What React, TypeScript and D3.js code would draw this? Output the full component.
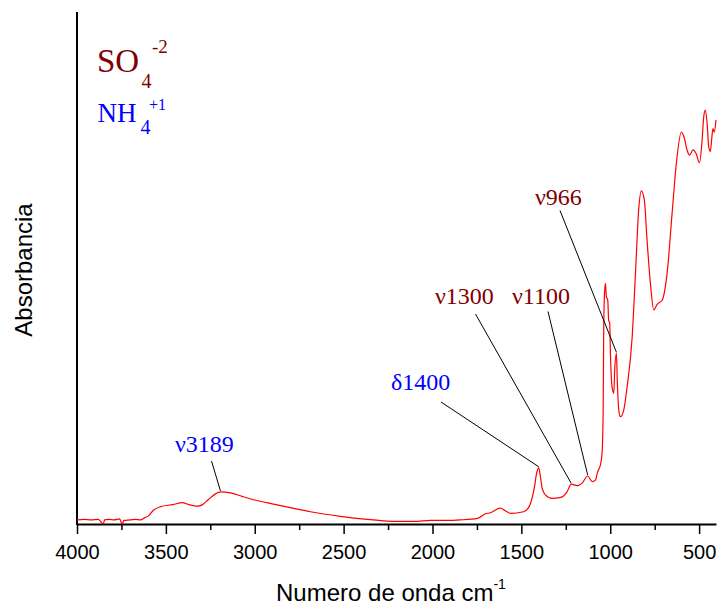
import React, { useEffect, useRef } from "react";
import * as d3 from "d3";

// FTIR spectrum (wavenumber cm-1, absorbance a.u.)
const wavenumbers = [
  4000, 3960, 3920, 3880, 3852, 3845, 3820, 3790, 3760, 3746, 3736, 3700, 3670,
  3643, 3620, 3598, 3570, 3530, 3460, 3408, 3370, 3317, 3294, 3260, 3221, 3193,
  3137, 3071, 3000, 2895, 2800, 2687, 2518, 2400, 2300, 2180, 2100, 2012, 1920,
  1843, 1747, 1702, 1674, 1618, 1590, 1562, 1488, 1455, 1438, 1426, 1415, 1402,
  1393, 1383, 1365, 1327, 1280, 1243, 1220, 1186, 1158, 1127, 1102, 1083, 1071,
  1055, 1046, 1040, 1037, 1033, 1027, 1022, 1014, 1009, 1003, 999, 990, 980, 975,
  965, 961, 952, 943, 924, 905, 877, 858, 840, 825, 808, 793, 774, 755, 736, 708,
  680, 652, 628, 600, 583, 568, 553, 534, 517, 498, 483, 474, 465, 455, 446, 437,
  428, 422, 415, 405,
];
const absorbance = [
  0.006, 0.007, 0.006, 0.007, -0.002, 0.006, 0.007, 0.006, 0.008, -0.002, 0.005,
  0.006, 0.007, 0.006, 0.01, 0.014, 0.025, 0.032, 0.036, 0.04, 0.036, 0.033,
  0.036, 0.046, 0.057, 0.061, 0.059, 0.052, 0.045, 0.037, 0.03, 0.022, 0.013,
  0.008, 0.005, 0.003, 0.003, 0.005, 0.005, 0.006, 0.009, 0.018, 0.02, 0.029,
  0.024, 0.019, 0.022, 0.033, 0.051, 0.071, 0.096, 0.108, 0.091, 0.068, 0.055,
  0.048, 0.05, 0.061, 0.076, 0.073, 0.078, 0.092, 0.081, 0.084, 0.1, 0.114,
  0.137, 0.215, 0.365, 0.443, 0.469, 0.443, 0.436, 0.397, 0.391, 0.333, 0.267,
  0.254, 0.299, 0.332, 0.286, 0.221, 0.208, 0.221, 0.267, 0.362, 0.489, 0.613,
  0.65, 0.632, 0.554, 0.469, 0.417, 0.428, 0.436, 0.489, 0.606, 0.704, 0.765,
  0.753, 0.73, 0.72, 0.73, 0.723, 0.705, 0.75, 0.795, 0.808, 0.782, 0.736,
  0.727, 0.756, 0.772, 0.765, 0.789,
];

const xTicks = [4000, 3500, 3000, 2500, 2000, 1500, 1000, 500];
const xMinorTicks = [3750, 3250, 2750, 2250, 1750, 1250, 750];

// band assignments
const bandLabels = ["\u03bd3189", "\u03b41400", "\u03bd1300", "\u03bd1100", "\u03bd966"];
const bandPeaks = [3193, 1402, 1220, 1127, 965];
const bandGroup = ["NH", "NH", "SO", "SO", "SO"];

const RED = "#ff0000";
const DARKRED = "#800000";
const BLUE = "#0000ff";

export default function App() {
  const svgRef = useRef<SVGSVGElement>(null);

  useEffect(() => {
    const width = 718;
    const height = 605;
    const svg = d3.select(svgRef.current).attr("width", width).attr("height", height);
    svg.selectAll("*").remove();

    const x = d3.scaleLinear().domain([4000, 405]).range([77, 716]);
    const y = d3.scaleLinear().domain([0, 1]).range([523, 12]);
    const axisY = 524;

    const data = wavenumbers.map((w, i) => ({ w, a: absorbance[i] }));

    // bottom axis with major + minor ticks
    const gx = svg.append("g").attr("transform", `translate(0,${axisY})`);
    gx.call(
      d3.axisBottom(x).tickValues(xTicks).tickSize(10).tickSizeOuter(0).tickPadding(11).tickFormat(d3.format("d"))
    );
    gx.select(".domain").attr("stroke-width", 2);
    gx.selectAll(".tick line").attr("stroke-width", 1.5);
    gx.selectAll(".tick text")
      .attr("font-family", "'Liberation Sans', Arial, sans-serif")
      .attr("font-size", 20)
      .attr("fill", "#000");

    const gm = svg.append("g").attr("transform", `translate(0,${axisY})`);
    gm.call(d3.axisBottom(x).tickValues(xMinorTicks).tickSize(6).tickFormat(() => ""));
    gm.select(".domain").remove();
    gm.selectAll(".tick line").attr("stroke-width", 1.5);

    // left axis (no ticks)
    svg.append("line")
      .attr("x1", 77).attr("x2", 77)
      .attr("y1", y(1)).attr("y2", axisY + 1)
      .attr("stroke", "#000").attr("stroke-width", 2);

    // spectrum
    const line = d3.line<{ w: number; a: number }>()
      .x((d) => x(d.w))
      .y((d) => y(d.a))
      .curve(d3.curveMonotoneX);
    svg.append("path")
      .datum(data)
      .attr("d", line)
      .attr("fill", "none")
      .attr("stroke", RED)
      .attr("stroke-width", 1.2);

    // band annotations: label anchor + leader start
    const labelPos = [
      { tx: 175, ty: 452, lx: 211.5, ly: 461 },
      { tx: 391, ty: 390, lx: 441, ly: 402 },
      { tx: 435, ty: 304, lx: 475.5, ly: 314 },
      { tx: 512, ty: 304, lx: 548, ly: 311.5 },
      { tx: 535, ty: 205, lx: 560, ly: 210.5 },
    ];
    bandLabels.forEach((lab, i) => {
      const p = data.find((d) => d.w === bandPeaks[i])!;
      const pos = labelPos[i];
      svg.append("line")
        .attr("x1", pos.lx).attr("y1", pos.ly)
        .attr("x2", x(p.w)).attr("y2", y(p.a) - 1)
        .attr("stroke", "#000").attr("stroke-width", 1);
      svg.append("text")
        .attr("x", pos.tx).attr("y", pos.ty)
        .attr("font-family", "'Liberation Serif', 'Times New Roman', serif")
        .attr("font-size", 24)
        .attr("fill", bandGroup[i] === "SO" ? DARKRED : BLUE)
        .text(lab);
    });

    // ion legend
    const serif = "'Liberation Serif', 'Times New Roman', serif";
    const ions = [
      { base: "SO", sub: "4", sup: "-2", color: DARKRED, bx: 97, by: 72, bs: 33, subx: 141.5, suby: 87.5, supx: 152, supy: 53, sups: 19 },
      { base: "NH", sub: "4", sup: "+1", color: BLUE, bx: 97.5, by: 122, bs: 27, subx: 140.5, suby: 134, supx: 149, supy: 110, sups: 16 },
    ];
    ions.forEach((ion) => {
      const g = svg.append("g").attr("font-family", serif).attr("fill", ion.color);
      g.append("text").attr("x", ion.bx).attr("y", ion.by).attr("font-size", ion.bs).text(ion.base);
      g.append("text").attr("x", ion.subx).attr("y", ion.suby).attr("font-size", 20).text(ion.sub);
      g.append("text").attr("x", ion.supx).attr("y", ion.supy).attr("font-size", ion.sups).text(ion.sup);
    });

    // axis titles
    const sans = "'Liberation Sans', Arial, sans-serif";
    const xt = svg.append("text")
      .attr("x", 276).attr("y", 601)
      .attr("font-family", sans).attr("font-size", 24).attr("fill", "#000");
    xt.append("tspan").text("Numero de onda cm");
    xt.append("tspan").attr("dy", -12).attr("font-size", 14).text("-1");

    svg.append("text")
      .attr("transform", "translate(32,270) rotate(-90)")
      .attr("text-anchor", "middle")
      .attr("font-family", sans).attr("font-size", 24).attr("fill", "#000")
      .text("Absorbancia");
  }, []);

  return (
    <svg
      ref={svgRef}
      style={{ position: "absolute", left: 0, top: 0, background: "#fff" }}
    ></svg>
  );
}
